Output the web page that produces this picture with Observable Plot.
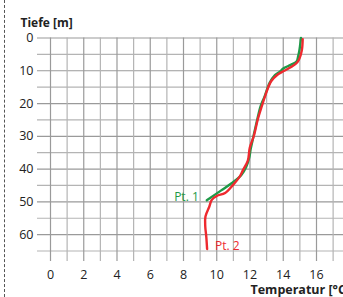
<!DOCTYPE html>
<html><head><meta charset="utf-8">
<script src="https://cdn.jsdelivr.net/npm/d3@7"></script>
<script src="https://cdn.jsdelivr.net/npm/@observablehq/plot@0.6"></script>
<style>
html,body{margin:0;padding:0;background:#fff;}
#wrap{position:relative;width:343px;height:297px;overflow:hidden;}
#dash{position:absolute;left:4px;top:0;bottom:0;border-left:1px dashed #555;}
</style>
</head><body>
<div id="wrap"><div id="dash"></div></div>
<script>
// Pt. 1 (green)
const pt1Depth = [0, 2, 3.8, 5.5, 7.2, 8.2, 9.3, 10.3, 11.3, 13.7, 17.8, 20.8, 24.8, 30.9, 33.9, 36.4, 39.4, 41.9, 44.4, 46.5, 49.5];
const pt1Temp  = [15.07, 15.02, 14.97, 14.9, 14.8, 14.45, 14.0, 13.8, 13.5, 13.18, 12.88, 12.64, 12.44, 12.17, 12.04, 11.96, 11.77, 11.47, 10.87, 10.27, 9.4];
// Pt. 2 (red)
const pt2Depth = [0.4, 3.7, 6.2, 7.4, 8.8, 10.3, 11.2, 13.2, 16.8, 20.8, 24.8, 29.9, 33.4, 37.4, 40.4, 42.4, 44.9, 47.3, 48.2, 49.4, 51.5, 54.5, 57.6, 60.6, 64.4];
const pt2Temp  = [15.17, 15.12, 14.98, 14.85, 14.5, 13.95, 13.65, 13.27, 12.97, 12.71, 12.47, 12.23, 11.99, 11.87, 11.57, 11.37, 10.97, 10.5, 10.0, 9.7, 9.55, 9.32, 9.31, 9.37, 9.42];
const seriesNames = ["Pt. 1", "Pt. 2"];
const seriesColors = ["#1e9a48", "#ee2a2f"];
const xTicks = [0, 2, 4, 6, 8, 10, 12, 14, 16, 18];
const yTicks = [0, 10, 20, 30, 40, 50, 60];
const xGrid = d3.range(0, 19, 1);
const yGrid = d3.range(0, 70, 5);
const xTitle = "Temperatur [°C]";
const yTitle = "Tiefe [m]";

const rows = [
  ...pt1Depth.map((d, i) => ({series: seriesNames[0], depth: d, temp: pt1Temp[i]})),
  ...pt2Depth.map((d, i) => ({series: seriesNames[1], depth: d, temp: pt2Temp[i]}))
];
const lastPts = seriesNames.map(s => rows.filter(r => r.series === s).at(-1));

const font = "'Open Sans', 'Noto Sans', sans-serif";
const chart = Plot.plot({
  width: 343,
  height: 297,
  marginLeft: 50,
  marginRight: 0,
  marginTop: 37.5,
  marginBottom: 46.5,
  style: {fontFamily: font, fontSize: "12px", color: "#333", background: "transparent"},
  x: {domain: [0, 18], range: [50, 349.25]},
  y: {domain: [0, 65], range: [37.5, 250.5]},
  color: {domain: seriesNames, range: seriesColors},
  marks: [
    Plot.gridY(yGrid.filter(v => v % 10 !== 0), {stroke: "#b4b4b4", strokeOpacity: 1, strokeWidth: 1.2, insetLeft: -13}),
    Plot.gridY(yGrid.filter(v => v % 10 === 0), {stroke: "#9a9a9a", strokeOpacity: 1, strokeWidth: 1.2, insetLeft: -13}),
    Plot.gridX(xGrid.filter(v => v % 2 !== 0), {stroke: "#b4b4b4", strokeOpacity: 1, strokeWidth: 1.2, insetBottom: -10.5}),
    Plot.gridX(xGrid.filter(v => v % 2 === 0), {stroke: "#9a9a9a", strokeOpacity: 1, strokeWidth: 1.2, insetBottom: -10.5}),
    Plot.axisX(xTicks, {tickSize: 0, tickPadding: 19, label: null, fontSize: 12.5, fill: "#222"}),
    Plot.axisY(yTicks, {tickSize: 0, tickPadding: 17, label: null, fontSize: 12.5, fill: "#222"}),
    Plot.line(rows, {x: "temp", y: "depth", z: "series", stroke: "series", strokeWidth: 2.4, curve: "catmull-rom"}),
    Plot.text([lastPts[0]], {x: "temp", y: "depth", text: "series", fill: seriesColors[0], textAnchor: "end", dx: -8, dy: -3, fontSize: 12}),
    Plot.text([lastPts[1]], {x: "temp", y: "depth", text: "series", fill: seriesColors[1], textAnchor: "start", dx: 8, dy: -3, fontSize: 12}),
    Plot.text([yTitle], {frameAnchor: "top-left", text: d => d, dx: -30, dy: -20, fontWeight: "bold", fontSize: 12, fill: "#222", textAnchor: "start"}),
    Plot.text([xTitle], {frameAnchor: "bottom-left", text: d => d, dx: 200, dy: 42.5, fontWeight: "bold", fontSize: 12.5, fill: "#222", textAnchor: "start"})
  ]
});
document.getElementById("wrap").appendChild(chart);
</script>
</body></html>
